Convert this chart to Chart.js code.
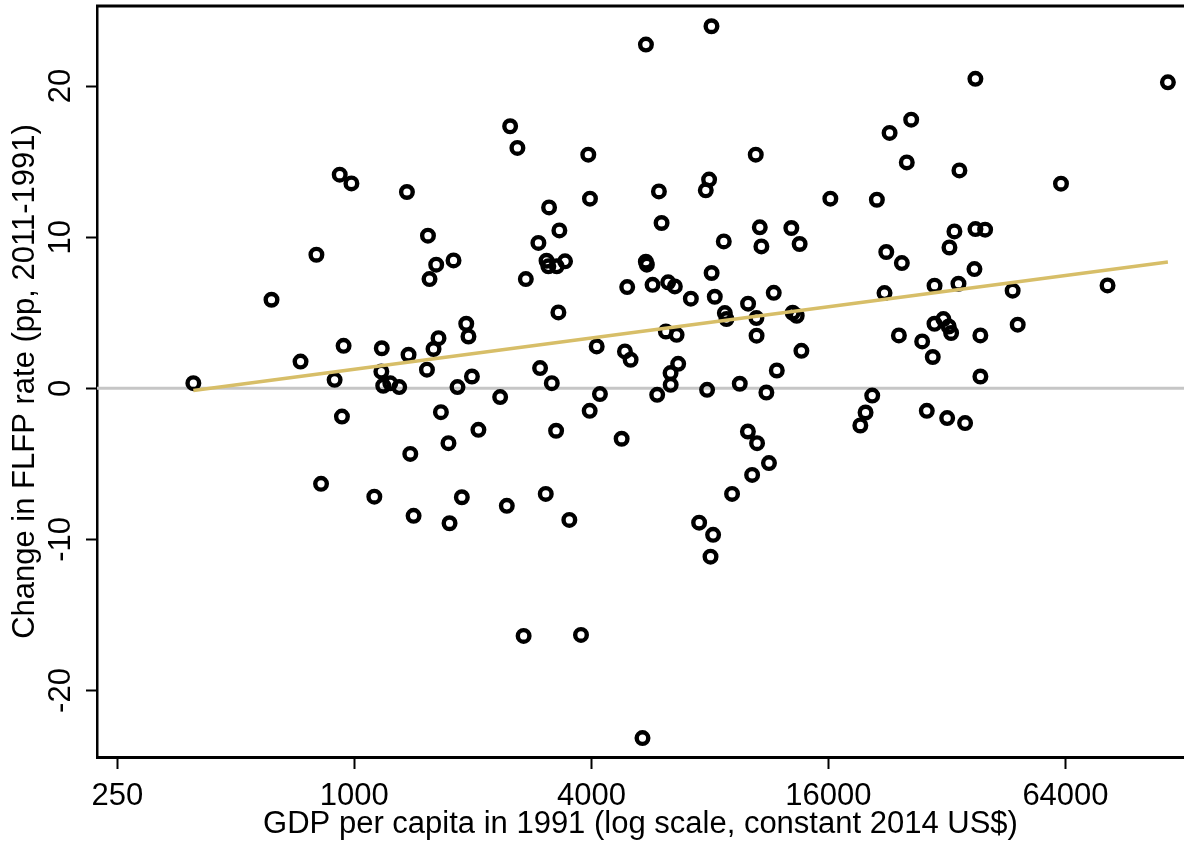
<!DOCTYPE html>
<html>
<head>
<meta charset="utf-8">
<script src="https://cdn.jsdelivr.net/npm/chart.js@4"></script>
<style>
html, body { margin: 0; padding: 0; background: #fff; overflow: hidden; }
#chart { display: block; }
</style>
</head>
<body>
<canvas id="chart" width="1184" height="846"></canvas>
<script>
// GDP per capita in 1991 (constant 2014 US$), one entry per country
const gdp1991 = [
    390, 616, 730, 801, 823, 891, 918, 930, 939, 983,
    1124, 1174, 1171, 1184, 1234, 1300, 1373, 1360, 1387, 1414,
    1538, 1552, 1614, 1529, 1589, 1636, 1659, 1734, 1745, 1786,
    1828, 1875, 1924, 1949, 1989, 2066, 2346, 2439, 2487, 2595,
    2726, 2691, 2934, 2963, 3063, 3123, 3077, 3110, 3267, 3429,
    3173, 3254, 3298, 3317, 3516, 3764, 3928, 3967, 3960, 4126,
    4205, 4774, 4867, 4932, 5031, 5393, 5503, 5500, 5533, 5720,
    5877, 5937, 6030, 6183, 6267, 6517, 6355, 6360, 6584, 6645,
    7156, 7511, 7809, 7869, 7962, 8028, 8073, 8080, 8151, 8231,
    8676, 8729, 8814, 9106, 9526, 10000, 9990, 10240, 10460, 10500,
    10510, 10540, 10710, 10810, 11130, 11300, 11620, 11830, 12880, 12980,
    13290, 13520, 13660, 16180, 19280, 19880, 20670, 21240, 22210, 22440,
    22880, 24160, 24580, 25300, 25960, 27680, 28440, 29450, 29750, 29760,
    31340, 32330, 32790, 32040, 32470, 33430, 34230, 34420, 35580, 37580,
    37790, 37800, 38900, 38910, 40000, 46990, 48400, 62340, 81850, 116500
];

// change in female labour force participation rate, pp (2011-1991)
const flfpChange = [
    0.34, 5.86, 1.77, 8.84, -6.32, 0.56, 14.14, -1.87, 2.81, 13.56,
    -7.17, 2.65, 1.11, 0.17, 0.33, 0.08, 2.22, 12.99, -4.34, -8.44,
    10.10, 7.23, 8.18, 1.23, 2.60, 3.32, -1.58, -3.63, -8.93, 8.46,
    0.08, -7.21, 4.27, 3.43, 0.78, -2.75, -0.58, -7.78, 17.34, 15.91,
    7.23, -16.39, 9.62, 1.34, -6.99, 11.97, 8.44, 8.07, 8.07, 8.40,
    0.34, -2.81, 5.02, 10.45, -8.71, -16.32, 15.46, 12.55, -1.49, 2.77,
    -0.38, -3.34, 2.44, 6.70, 1.89, -23.15, 22.75, 8.38, 8.18, 6.85,
    -0.43, 13.03, 10.94, 3.76, 7.01, 6.74, 1.01, 0.23, 3.54, 1.62,
    5.93, -8.89, 13.10, -0.10, 13.81, -11.14, 23.96, 7.63, -9.70, 6.06,
    9.72, 4.98, 4.58, -6.99, 0.30, 5.60, -2.86, -5.73, 15.46, 4.65,
    3.48, -3.63, 10.65, 9.39, -0.28, -4.95, 6.32, 1.18, 10.61, 5.00,
    4.80, 9.55, 2.48, 12.55, -2.46, -1.60, -0.48, 12.48, 6.30, 9.02,
    16.90, 3.50, 8.29, 14.95, 17.78, 3.10, -1.49, 2.07, 4.27, 6.79,
    4.58, 4.09, 3.66, -1.97, 9.32, 10.38, 6.92, 14.42, -2.30, 7.89,
    20.48, 10.54, 3.50, 0.78, 10.50, 6.46, 4.21, 13.54, 6.81, 20.25
];

// linear fit (at the two ends)
const fitGdp = [390, 116500];
const fitFlfp = [-0.15, 8.36];

const xTickValues = [250, 1000, 4000, 16000, 64000];
const yTickValues = [-20, -10, 0, 10, 20];
const xRange = [222, 128000];
const yRange = [-24.4, 25.3];

const FONT = '"Liberation Sans", Arial, sans-serif';
const FONT_SIZE = 31;

// top frame line + rotated y tick labels (Chart.js doesn't rotate y labels nicely)
const framePlugin = {
    id: 'frame',
    afterDraw(chart) {
        const { ctx, chartArea, scales } = chart;
        ctx.save();
        ctx.strokeStyle = '#000';
        ctx.lineWidth = 3;
        ctx.beginPath();
        ctx.moveTo(chartArea.left - 1, chartArea.top);
        ctx.lineTo(chartArea.right, chartArea.top);
        ctx.stroke();

        ctx.fillStyle = '#000';
        ctx.font = FONT_SIZE + 'px ' + FONT;
        ctx.textAlign = 'center';
        ctx.textBaseline = 'alphabetic';
        yTickValues.forEach(v => {
            const y = scales.y.getPixelForValue(v);
            ctx.save();
            ctx.translate(chartArea.left - 27, y);
            ctx.rotate(-Math.PI / 2);
            ctx.fillText(String(v), 0, 0);
            ctx.restore();
        });
        ctx.restore();
    }
};

new Chart(document.getElementById('chart'), {
    type: 'scatter',
    data: {
        datasets: [
            {
                type: 'line',
                label: 'fit',
                data: fitGdp.map((x, i) => ({ x: x, y: fitFlfp[i] })),
                borderColor: '#d7be68',
                borderWidth: 3.5,
                pointRadius: 0,
                fill: false
            },
            {
                type: 'scatter',
                label: 'countries',
                data: gdp1991.map((x, i) => ({ x: x, y: flfpChange[i] })),
                pointStyle: 'circle',
                pointRadius: 5.8,
                borderWidth: 4.4,
                borderColor: '#000',
                backgroundColor: 'rgba(0,0,0,0)'
            },
            {
                type: 'line',
                label: 'zero',
                data: [{ x: xRange[0], y: 0 }, { x: xRange[1], y: 0 }],
                borderColor: '#c6c6c6',
                borderWidth: 3,
                pointRadius: 0,
                fill: false
            }
        ]
    },
    options: {
        responsive: false,
        maintainAspectRatio: false,
        animation: false,
        devicePixelRatio: 1,
        // no auto padding, otherwise point radius pushes the frame in
        layout: { autoPadding: false, padding: { top: 6, right: 0, left: 0, bottom: 0 } },
        plugins: {
            legend: { display: false },
            tooltip: { enabled: false }
        },
        scales: {
            x: {
                type: 'logarithmic',
                position: 'bottom',
                min: xRange[0],
                max: xRange[1],
                afterBuildTicks: s => { s.ticks = xTickValues.map(v => ({ value: v })); },
                afterFit: s => { s.height = 89; },
                grid: { drawOnChartArea: false, drawTicks: true, tickLength: 12, tickWidth: 2, tickColor: '#000' },
                border: { display: true, color: '#000', width: 3 },
                ticks: {
                    color: '#000',
                    font: { family: FONT, size: FONT_SIZE },
                    padding: 9,
                    maxRotation: 0,
                    autoSkip: false,
                    callback: v => String(v)
                },
                title: {
                    display: true,
                    text: 'GDP per capita in 1991 (log scale, constant 2014 US$)',
                    color: '#000',
                    font: { family: FONT, size: FONT_SIZE },
                    padding: { top: 0, bottom: 3 }
                }
            },
            y: {
                min: yRange[0],
                max: yRange[1],
                afterBuildTicks: s => { s.ticks = yTickValues.map(v => ({ value: v })); },
                afterFit: s => { s.width = 97; },
                grid: { drawOnChartArea: false, drawTicks: true, tickLength: 11, tickWidth: 2, tickColor: '#000' },
                border: { display: true, color: '#000', width: 2.5 },
                ticks: { display: false },
                title: {
                    display: true,
                    text: 'Change in FLFP rate (pp, 2011-1991)',
                    color: '#000',
                    font: { family: FONT, size: FONT_SIZE },
                    padding: { top: 7, bottom: 0 }
                }
            }
        }
    },
    plugins: [framePlugin]
});
</script>
</body>
</html>
